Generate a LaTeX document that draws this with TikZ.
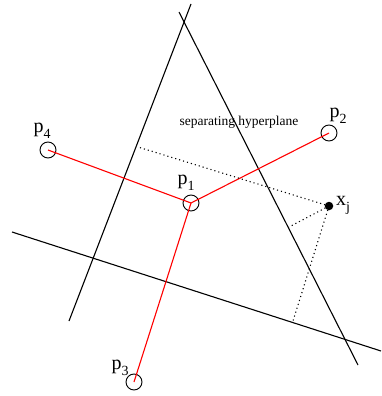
\documentclass[tikz,border=0pt]{standalone}
\usepackage{fontspec}
\setmainfont{Liberation Serif}
\newcommand{\lowsub}[1]{\raisebox{-6pt}{\fontsize{14}{14}\selectfont #1}}
\begin{document}
\begin{tikzpicture}[x=1pt,y=-1pt,
  pt/.style={circle,draw,line width=0.9pt,minimum size=16pt,inner sep=0pt},
  hyp/.style={line width=1.1pt},
  link/.style={red,line width=1.1pt},
  proj/.style={line width=1.1pt,dash pattern=on 1.1pt off 3pt},
  lab/.style={font=\fontsize{20}{20}\selectfont,inner sep=0pt}]
\useasboundingbox (0,0) rectangle (381,396);
% hyperplanes
\coordinate (a1) at (69,321); \coordinate (a2) at (191,4);
\coordinate (b1) at (179,12); \coordinate (b2) at (358,365);
\coordinate (c1) at (12,232); \coordinate (c2) at (381,351);
\draw[hyp] (a1) -- (a2);
\draw[hyp] (b1) -- (b2);
\draw[hyp] (c1) -- (c2);
% points
\node[pt] (p1) at (191,203) {};
\node[pt] (p2) at (329,133) {};
\node[pt] (p3) at (134,382) {};
\node[pt] (p4) at (48,150) {};
\draw[link] (p1.center) -- (p2.center);
\draw[link] (p1.center) -- (p3.center);
\draw[link] (p1.center) -- (p4.center);
% x_j
\node[circle,fill,minimum size=8.5pt,inner sep=0pt] (xj) at (329,206) {};
\coordinate (fa) at (138,147);
\coordinate (fb) at (289,227);
\coordinate (fc) at (293,321);
\draw[proj] (xj.center) -- (fa);
\draw[proj] (xj.center) -- (fb);
\draw[proj] (xj.center) -- (fc);
% labels
\node[lab] (l1) at (186,183) {p\lowsub{1}};
\node[lab] (l2) at (338,116) {p\lowsub{2}};
\node[lab] (l3) at (120,368) {p\lowsub{3}};
\node[lab] (l4) at (42,131) {p\lowsub{4}};
\node[lab,anchor=west] (lx) at (336,205) {x\lowsub{j}};
\node[font=\fontsize{13.5}{13.5}\selectfont,inner sep=0pt] (sh) at (239,122) {separating hyperplane};
\end{tikzpicture}
\end{document}
